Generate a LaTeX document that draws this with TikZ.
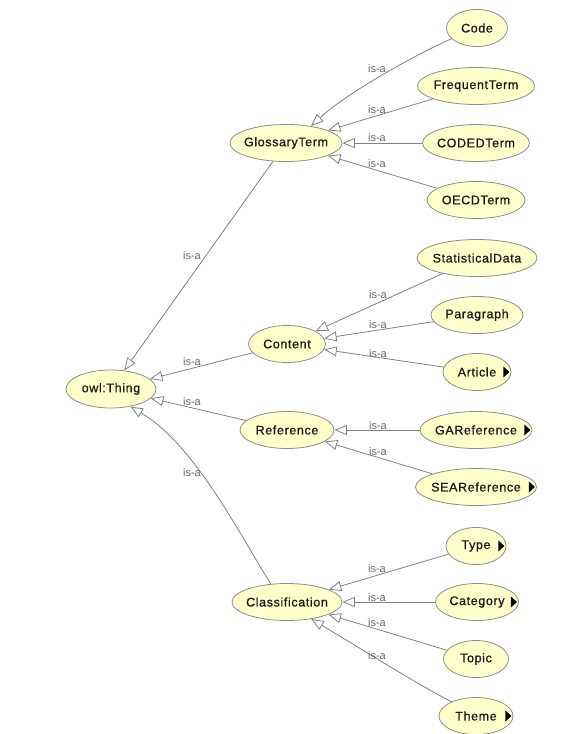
\documentclass[tikz,border=0pt]{standalone}
\usepackage{fontspec}
\usetikzlibrary{shapes.geometric,arrows.meta}
\newfontfamily\clsfont[LetterSpace=5,FakeBold=0.8]{Liberation Sans}
\newfontfamily\lblfont{Liberation Sans}
\definecolor{clsfill}{RGB}{255,255,204}
\definecolor{clsdraw}{RGB}{140,140,140}
\definecolor{edgegray}{RGB}{128,128,128}
\definecolor{lblgray}{RGB}{105,105,105}
\newcommand\clsmark[1]{\fill[black] ([xshift=-8pt,yshift=5.5pt]#1.east) -- ([xshift=-8pt,yshift=-5.5pt]#1.east) -- ([xshift=-2pt]#1.east) -- cycle;}
\begin{document}
\begin{tikzpicture}[x=1pt,y=-1pt,
  cls/.style={ellipse, draw=clsdraw, fill=clsfill, line width=0.8pt, minimum height=37pt, inner sep=0pt, font=\clsfont\fontsize{12.5}{14}\selectfont, text=black!90},
  isa/.style={draw=edgegray, line width=0.8pt, -{Triangle[open, length=12.5pt, width=10pt]}},
  lbl/.style={font=\lblfont\fontsize{11}{13}\selectfont, text=lblgray, inner sep=0pt}]
\useasboundingbox (0,0) rectangle (566,734);
% nodes
\node[cls, minimum width=90pt, minimum height=38pt] (thing) at (111,389) {\makebox[0pt]{owl:Thing}};
\node[cls, minimum width=112pt] (gloss) at (286,143) {\makebox[0pt]{GlossaryTerm}};
\node[cls, minimum width=77pt] (content) at (287,344) {\makebox[0pt]{Content}};
\node[cls, minimum width=94pt] (ref) at (287,430) {\makebox[0pt]{Reference}};
\node[cls, minimum width=110pt] (class) at (287,602) {\makebox[0pt]{Classification}};
\node[cls, minimum width=61pt] (code) at (477,28) {\makebox[0pt]{Code}};
\node[cls, minimum width=117pt] (freq) at (476,86) {\makebox[0pt]{FrequentTerm}};
\node[cls, minimum width=107pt] (coded) at (476,143) {\makebox[0pt]{CODEDTerm}};
\node[cls, minimum width=98pt] (oecd) at (476,200) {\makebox[0pt]{OECDTerm}};
\node[cls, minimum width=120pt] (stat) at (477,258) {\makebox[0pt]{StatisticalData}};
\node[cls, minimum width=92pt] (para) at (477,315) {\makebox[0pt]{Paragraph}};
\node[cls, minimum width=68pt] (art) at (477,372) {\makebox[0pt]{Article}};
\node[cls, minimum width=112pt] (ga) at (476,430) {\makebox[0pt]{GAReference}};
\node[cls, minimum width=121pt] (sea) at (476,487) {\makebox[0pt]{SEAReference}};
\node[cls, minimum width=60pt] (type) at (476,546) {\makebox[0pt]{Type}};
\node[cls, minimum width=83pt] (cat) at (477,602) {\makebox[0pt]{Category}};
\node[cls, minimum width=65pt] (topic) at (476,659) {\makebox[0pt]{Topic}};
\node[cls, minimum width=74pt] (theme) at (476,716) {\makebox[0pt]{Theme}};
% markers
\clsmark{art}
\clsmark{ga}
\clsmark{sea}
\clsmark{type}
\clsmark{cat}
\clsmark{theme}
% edges
\draw[isa] (code.203) .. controls (425,50) and (350,90) .. (gloss.34);
\draw[isa] (freq) -- (gloss);
\draw[isa] (coded) -- (gloss);
\draw[isa] (oecd) -- (gloss);
\draw[isa] (gloss) -- (thing);
\draw[isa] (content) -- (thing);
\draw[isa] (ref) -- (thing);
\draw[isa] (class.132) .. controls (240,535) and (195,445) .. (thing.318);
\draw[isa] (stat) -- (content);
\draw[isa] (para) -- (content);
\draw[isa] (art) -- (content);
\draw[isa] (ga) -- (ref);
\draw[isa] (sea) -- (ref);
\draw[isa] (type) -- (class);
\draw[isa] (cat) -- (class);
\draw[isa] (topic) -- (class);
\draw[isa] (theme.150) .. controls (410,680) and (360,648) .. (class.-35);
% labels
\node[lbl] (l1) at (377,69) {is-a};
\node[lbl] (l2) at (377,110) {is-a};
\node[lbl] (l3) at (377,138) {is-a};
\node[lbl] (l4) at (377,164) {is-a};
\node[lbl] (l5) at (192,256) {is-a};
\node[lbl] (l6) at (192,362) {is-a};
\node[lbl] (l7) at (192,402) {is-a};
\node[lbl] (l8) at (192,473) {is-a};
\node[lbl] (l9) at (378,295) {is-a};
\node[lbl] (l10) at (378,325) {is-a};
\node[lbl] (l11) at (378,354) {is-a};
\node[lbl] (l12) at (378,426) {is-a};
\node[lbl] (l13) at (378,452) {is-a};
\node[lbl] (l14) at (377,569) {is-a};
\node[lbl] (l15) at (377,598) {is-a};
\node[lbl] (l16) at (377,623) {is-a};
\node[lbl] (l17) at (377,656) {is-a};
\end{tikzpicture}
\end{document}
